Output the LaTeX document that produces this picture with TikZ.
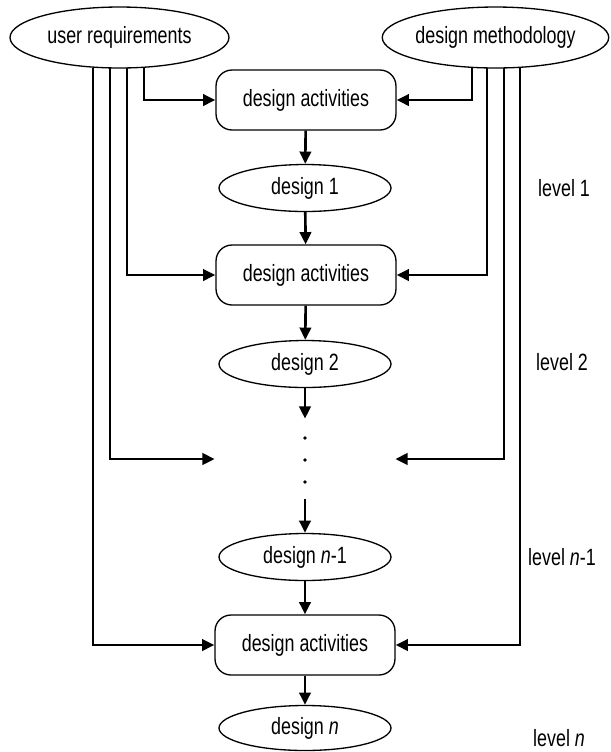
\documentclass[tikz,border=0pt]{standalone}
\usepackage{fontspec}
\setmainfont[FakeStretch=0.76]{Liberation Sans}
\usepackage{tikz}
\usetikzlibrary{arrows.meta,shapes.geometric,positioning}
\tikzset{
  srcnode/.style={draw, ellipse, line width=0.75pt, inner sep=0pt, minimum height=1.22cm},
  design/.style={draw, ellipse, line width=0.75pt, inner sep=0pt, minimum width=3.44cm, minimum height=0.94cm},
  activity/.style={draw, rounded corners=0.32cm, line width=0.75pt, minimum width=3.6cm, minimum height=1.2cm},
  flow/.style={line width=1.5pt, -{Triangle[length=7pt,width=6.5pt]}},
}

\begin{document}
\begin{tikzpicture}[x=0.02cm, y=-0.02cm, font=\fontsize{13.4pt}{16pt}\selectfont]
                    \useasboundingbox (0,0) rectangle (610,752);
                    % inputs
                    \node [srcnode, minimum width=4.38cm] (ureq) at (119.5,37.5) {user requirements};
                    \node [srcnode, minimum width=4.52cm] (dmeth) at (495.5,37.5) {design methodology};
                    % main column
                    \node [activity] (act1) at (306,100) {design activities};
                    \node [design] (des1) at (305,188) {design 1};
                    \node [activity] (act2) at (306,275) {design activities};
                    \node [design] (des2) at (305,364) {design 2};
                    \node [minimum width=3.6cm, minimum height=1.6cm] (gap) at (305,459) {};
                    \node [design] (desm) at (305,557) {design \textit{n}-1};
                    \node [activity] (actn) at (305,645) {design activities};
                    \node [design, minimum height=0.9cm] (desn) at (305,728) {design \textit{n}};
                    \draw [flow] (act1) -- (des1);
                    \draw [flow] (des1) -- (act2);
                    \draw [flow] (act2) -- (des2);
                    \draw [flow] (des2) -- (gap.north);
                    \draw [flow] (gap.south) -- (desm);
                    \draw [flow] (desm) -- (actn);
                    \draw [flow] (actn) -- (desn);
                    \foreach \y in {438,460,482}
                        \fill (305,\y) circle (1.8);
                    % feed lines
                    \draw [flow] (ureq.south) ++(24.5,-1) |- (act1.west);
                    \draw [flow] (ureq.south) ++(7.5,-1) |- (act2.west);
                    \draw [flow] (ureq.south) ++(-9.5,-1) |- (gap.west);
                    \draw [flow] (ureq.south) ++(-26.5,-1) |- (actn.west);
                    \draw [flow] (dmeth.south) ++(-23.5,-1) |- (act1.east);
                    \draw [flow] (dmeth.south) ++(-8.5,-1) |- (act2.east);
                    \draw [flow] (dmeth.south) ++(8.5,-1) |- (gap.east);
                    \draw [flow] (dmeth.south) ++(24.5,-1) |- (actn.east);
                    % levels
                    \node [right] (lev1) at (532,188) {level 1};
                    \node [right] (lev2) at (530,362) {level 2};
                    \node [right] (levm) at (522,557) {level \textit{n}-1};
                    \node [right] (levn) at (527,738) {level \textit{n}};
                \end{tikzpicture}
\end{document}
